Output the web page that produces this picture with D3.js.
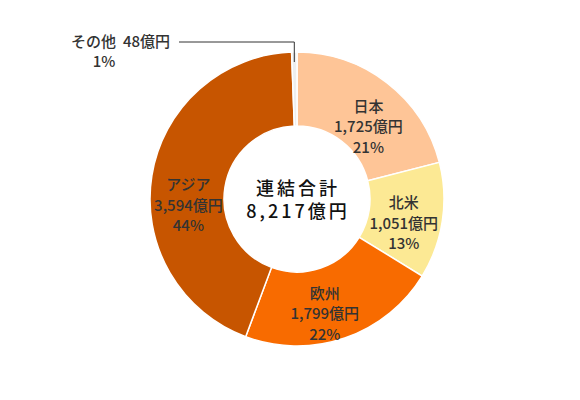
<!DOCTYPE html>
<html>
<head>
<meta charset="utf-8">
<script src="https://cdn.jsdelivr.net/npm/d3@7"></script>
<style>
  body { margin: 0; background: #fff; }
  text { font-family: "Noto Sans CJK JP", "Noto Sans", sans-serif; }
</style>
</head>
<body>
<svg id="chart"></svg>
<script>
// data
const regions = ['日本', '北米', '欧州', 'アジア', 'その他'];
const sales = [1725, 1051, 1799, 3594, 48];        // 億円
const shares = ['21%', '13%', '22%', '44%', '1%'];
const colors = ['#fec597', '#fce994', '#f86b00', '#c75500', '#eeeeee'];
const totalLabel = ['連結合計', '8,217億円'];

const width = 580, height = 400;
const cx = 297, cy = 199;
const outerR = 147, innerR = 73;

// small label nudges (px) relative to arc centroid
const nudge = [[4, 7], [-2, 0], [-8, 3], [0, 16]];

const svg = d3.select('#chart')
    .attr('width', width)
    .attr('height', height);

const g = svg.append('g')
    .attr('transform', 'translate(' + cx + ',' + cy + ')');

const pie = d3.pie().sort(null).value(d => d);
const arcs = pie(sales);

const arc = d3.arc().innerRadius(innerR).outerRadius(outerR);
const labelArc = d3.arc().innerRadius(110).outerRadius(110);

g.selectAll('path')
    .data(arcs)
    .enter()
    .append('path')
    .attr('d', arc)
    .attr('fill', (d, i) => colors[i])
    .attr('stroke', '#fff')
    .attr('stroke-width', 1.5);

// labels inside slices (all but その他)
arcs.slice(0, 4).forEach((d, i) => {
    const c = labelArc.centroid(d);
    const x = c[0] + nudge[i][0];
    const t = g.append('text')
        .attr('x', x)
        .attr('y', c[1] + nudge[i][1])
        .attr('text-anchor', 'middle')
        .attr('font-size', 15)
        .attr('font-weight', 500)
        .attr('fill', '#333');
    const lines = [regions[i], d3.format(',')(sales[i]) + '億円', shares[i]];
    lines.forEach((s, k) => {
        t.append('tspan')
            .attr('x', x)
            .attr('dy', k === 0 ? '-0.9em' : '1.35em')
            .attr('dominant-baseline', 'central')
            .text(s);
    });
});

// その他 with leader line
const other = arcs[4];
const oa = (other.startAngle + other.endAngle) / 2;
const ox = outerR * Math.sin(oa), oy = -outerR * Math.cos(oa);
g.append('polyline')
    .attr('points', [[ox, oy + 10], [ox, -157], [-118, -157]].map(p => p.join(',')).join(' '))
    .attr('fill', 'none')
    .attr('stroke', '#333')
    .attr('stroke-width', 1);
const ot = g.append('text')
    .attr('x', -127)
    .attr('y', -159)
    .attr('text-anchor', 'end')
    .attr('dominant-baseline', 'central')
    .attr('font-size', 15)
    .attr('font-weight', 500)
    .attr('fill', '#333');
ot.append('tspan').text(regions[4]);
ot.append('tspan').attr('dx', 7).text(sales[4] + '億円');
g.append('text')
    .attr('x', -193)
    .attr('y', -139)
    .attr('text-anchor', 'middle')
    .attr('dominant-baseline', 'central')
    .attr('font-size', 15)
    .attr('font-weight', 500)
    .attr('fill', '#333')
    .text(shares[4]);

// center total
const ct = g.append('text')
    .attr('y', -12)
    .attr('text-anchor', 'middle')
    .attr('font-size', 18)
    .attr('font-weight', 500)
    .attr('letter-spacing', 3)
    .attr('fill', '#111');
totalLabel.forEach((s, k) => {
    ct.append('tspan')
        .attr('x', 1)
        .attr('dy', k === 0 ? 0 : 23)
        .attr('dominant-baseline', 'central')
        .text(s);
});
</script>
</body>
</html>
